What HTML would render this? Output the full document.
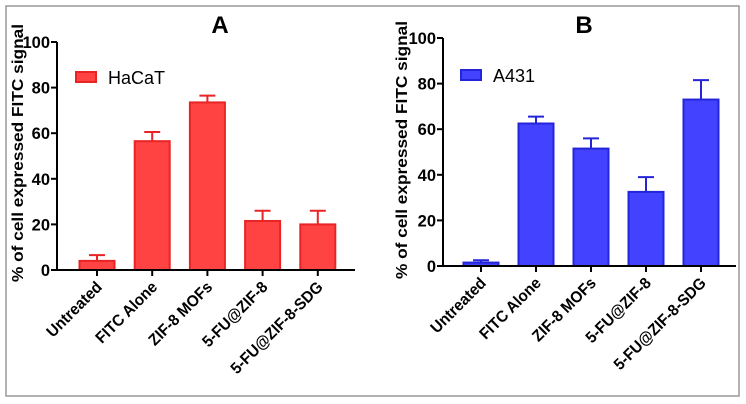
<!DOCTYPE html>
<html><head><meta charset="utf-8"><style>
body{margin:0;background:#fff;}
svg{display:block;font-family:"Liberation Sans",Arial,sans-serif;}
</style></head><body>
<svg id="chart" width="746" height="404" viewBox="0 0 746 404">
<rect x="6" y="6" width="733" height="390" fill="none" stroke="#999" stroke-width="1.5"/>
</svg>
<script>
const categories=["Untreated","FITC Alone","ZIF-8 MOFs","5-FU@ZIF-8","5-FU@ZIF-8-SDG"];
const valuesA=[4,56.5,73.5,21.5,20];
const errorsA=[2.5,4,3,4.5,6];
const valuesB=[1.5,62.5,51.5,32.5,73];
const errorsB=[1,3,4.5,6.5,8.5];
const yTicks=[0,20,40,60,80,100];
const NS="http://www.w3.org/2000/svg";
const svg=document.getElementById('chart');
function mk(tag,attrs,parent){const e=document.createElementNS(NS,tag);for(const k in attrs)e.setAttribute(k,attrs[k]);(parent||svg).appendChild(e);return e;}
function panel(cfg){
  const g=mk('g',{});
  
  
  const y=v=>cfg.y0+(cfg.y100-cfg.y0)*v/100;
  const x=i=>cfg.x0+cfg.step*i;
  const t=mk('text',{x:cfg.titleX,y:33,'font-size':24,'font-weight':'bold','text-anchor':'middle',fill:'#000'},g);
  t.textContent=cfg.title;
  
  
  const yt=mk('text',{x:0,y:0,'font-size':16,'font-weight':'bold','text-anchor':'middle',fill:'#000',textLength:258,lengthAdjust:'spacingAndGlyphs',transform:`translate(${cfg.ytX},${cfg.ytY}) rotate(-90)`},g);
  yt.textContent='% of cell expressed FITC signal';
  
  
  cfg.values.forEach((v,i)=>{
    const cx=x(i),top=y(v+cfg.errors[i]);
    const e=mk('path',{d:`M${cx} ${y(v)}V${top}M${cx-8} ${top}H${cx+8}`,stroke:cfg.stroke,'stroke-width':2,fill:'none'},g);
    
    
    const b=mk('rect',{x:cx-17.5,y:y(v),width:35,height:cfg.y0-y(v),fill:cfg.fill,stroke:cfg.stroke,'stroke-width':2},g);
    
    
    const tk=mk('line',{x1:cx,x2:cx,y1:cfg.y0,y2:cfg.y0+6,stroke:'#000','stroke-width':2},g);
    
    
    const lb=mk('text',{x:0,y:0,'font-size':16,'font-weight':'bold','text-anchor':'end',fill:'#000',transform:`translate(${cx+6},${cfg.y0+18}) rotate(-45) scale(0.95,1)`},g);
    lb.textContent=categories[i];
    
    
  });
  const ax=mk('path',{d:`M${cfg.axX} ${cfg.y100}V${cfg.y0}H${cfg.axEnd}`,stroke:'#000','stroke-width':2,fill:'none'},g);
  
  
  yTicks.forEach(v=>{
    const l=mk('line',{x1:cfg.axX-6,x2:cfg.axX,y1:y(v),y2:y(v),stroke:'#000','stroke-width':2},g);
    
    
    const tl=mk('text',{x:cfg.axX-7,y:y(v)+6,'font-size':16.5,'font-weight':'bold','text-anchor':'end',fill:'#000'},g);
    tl.textContent=String(v);
    
    
  });
  const lr=mk('rect',{x:cfg.legX,y:cfg.legY,width:20,height:10,fill:cfg.fill,stroke:cfg.stroke,'stroke-width':2},g);
  
  
  const lt=mk('text',{x:cfg.legX+32,y:cfg.legY+12,'font-size':18,fill:'#000'},g);
  lt.textContent=cfg.legend;
  
  
}
panel({id:'a',title:'A',titleX:220,values:valuesA,errors:errorsA,y0:270,y100:42,axX:57,axEnd:355,x0:97,step:55.2,fill:'#ff4343',stroke:'#e82424',ytX:23,ytY:153,legX:76,legY:72,legend:'HaCaT'});
panel({id:'b',title:'B',titleX:584,values:valuesB,errors:errorsB,y0:266,y100:38,axX:443,axEnd:736,x0:481,step:55,fill:'#4343ff',stroke:'#2424d8',ytX:407,ytY:150,legX:461,legY:70,legend:'A431'});
</script>
</body></html>
